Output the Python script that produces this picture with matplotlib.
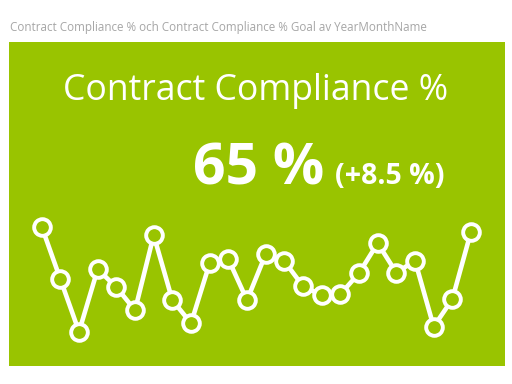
import matplotlib.pyplot as plt
import numpy as np

# KPI card: Contract Compliance % per YearMonthName
title = "Contract Compliance % och Contract Compliance % Goal av YearMonthName"
kpi_name = "Contract Compliance %"
kpi_value = 65
goal_delta = 8.5

# monthly values
values = [66.0, 55.5, 45.0, 57.5, 53.9, 49.3, 64.3, 51.3, 46.7, 58.7, 59.5, 51.3,
          60.5, 59.1, 54.1, 52.3, 52.5, 56.7, 62.7, 56.8, 59.2, 46.0, 51.5, 65.0]

green = "#99C400"
W, H = 512, 384

fig = plt.figure(figsize=(W / 100, H / 100), dpi=100)
plt.rcParams['font.family'] = ['Open Sans', 'DejaVu Sans']

fig.text(10 / W, 1 - 28 / H, title, color="#a6a6a6", fontsize=8.4,
         ha="left", va="center")

# green card
card = fig.add_axes([9 / W, 1 - 366 / H, 496 / W, 324 / H])
card.set_facecolor(green)
card.set_xticks([])
card.set_yticks([])
for s in card.spines.values():
    s.set_visible(False)

fig.text(256 / W, 1 - 100 / H, kpi_name, color="white", fontsize=25.7,
         ha="center", va="baseline")
fig.text(324 / W, 1 - 184 / H, f"{kpi_value} %", color="white", fontsize=41,
         fontweight="bold", ha="right", va="baseline")
fig.text(335 / W, 1 - 184 / H, f"(+{goal_delta} %)", color="white", fontsize=20.5,
         fontweight="bold", ha="left", va="baseline")

# sparkline
x0, x1 = 41.7, 471.0
y0, y1 = 226.7, 331.7
ax = fig.add_axes([x0 / W, 1 - y1 / H, (x1 - x0) / W, (y1 - y0) / H])
ax.patch.set_visible(False)
ind = np.arange(len(values))
ax.plot(ind, values, color="white", lw=3.3, marker="o", markersize=12,
        markerfacecolor=green, markeredgecolor="white", markeredgewidth=2.8,
        clip_on=False, solid_joinstyle="round")
ax.set_xlim(0, len(values) - 1)
ax.set_ylim(min(values), max(values))
ax.axis("off")

fig.savefig("out.png", dpi=100)
